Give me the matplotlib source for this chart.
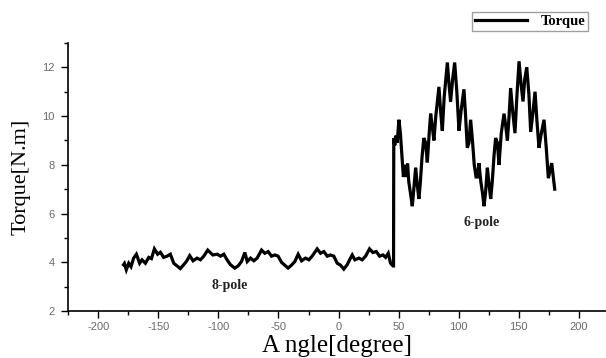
import matplotlib
matplotlib.use("Agg")
import matplotlib.pyplot as plt
from matplotlib.ticker import MultipleLocator

plt.rcParams["axes.unicode_minus"] = False

# ---- data ----
angle_8pole = [-179.0, -178.3, -176.7, -174.7, -172.8, -170.6, -168.3, -165.6, -163.6, -160.8,
               -158.0, -155.8, -153.3, -150.6, -148.3, -145.6, -142.8, -140.0, -137.2, -134.4,
               -131.7, -128.9, -126.7, -123.9, -121.1, -117.8, -115.0, -112.2, -108.9, -104.7,
               -101.0, -98.3, -95.5, -92.8, -90.0, -86.4, -83.6, -80.8, -78.0, -76.0,
               -73.3, -70.5, -67.8, -64.1, -61.4, -58.6, -55.8, -53.0, -50.3, -47.5,
               -44.7, -42.0, -39.2, -36.4, -33.6, -30.8, -27.5, -24.7, -22.0, -17.8,
               -15.0, -12.2, -9.4, -6.7, -3.9, -1.1, 1.7, 4.4, 7.2, 9.2,
               11.4, 13.6, 17.0, 19.7, 22.5, 25.8, 28.6, 31.4, 34.2, 37.0,
               39.2, 41.4, 43.3, 45.3, 45.8]
torque_8pole = [3.90, 3.95, 3.69, 3.96, 3.82, 4.17, 4.33, 3.96, 4.10, 3.96,
                4.20, 4.15, 4.55, 4.33, 4.41, 4.20, 4.25, 4.33, 3.96, 3.85,
                3.74, 3.90, 4.03, 4.27, 4.06, 4.17, 4.10, 4.25, 4.50, 4.30,
                4.33, 4.25, 4.33, 4.10, 3.90, 3.76, 3.85, 4.03, 4.40, 4.03,
                4.17, 4.06, 4.17, 4.50, 4.37, 4.44, 4.25, 4.30, 4.25, 4.00,
                3.88, 3.76, 3.88, 4.03, 4.33, 4.06, 4.17, 4.10, 4.25, 4.55,
                4.37, 4.44, 4.25, 4.30, 4.25, 3.96, 3.88, 3.72, 3.90, 4.10,
                4.30, 4.10, 4.17, 4.10, 4.25, 4.55, 4.40, 4.44, 4.25, 4.30,
                4.20, 4.37, 3.96, 3.85, 3.85]

angle_6pole = [46.0, 46.8, 47.8, 48.8, 50.3, 51.5, 53.0, 54.0, 55.0, 56.0,
               57.5, 58.5, 60.0, 61.4, 62.5, 64.2, 65.5, 66.9, 68.0, 69.5,
               71.0, 72.5, 73.9, 75.5, 76.7, 78.0, 79.4, 81.0, 83.6, 85.0,
               86.4, 88.0, 90.6, 92.0, 93.3, 95.0, 96.7, 98.5, 100.3, 102.0,
               104.4, 105.8, 107.2, 108.6, 110.0, 111.5, 113.0, 114.5, 115.6, 116.9,
               118.5, 120.0, 121.1, 122.5, 123.9, 125.3, 126.7, 128.0, 129.5, 130.8,
               132.3, 133.6, 135.5, 137.8, 139.2, 140.6, 142.0, 143.3, 145.0, 146.9,
               148.5, 150.3, 152.0, 153.6, 155.0, 156.7, 158.5, 160.0, 162.0, 163.6,
               165.2, 166.9, 168.5, 171.1, 172.8, 174.7, 177.5, 180.0]
torque_6pole = [9.10, 8.80, 9.20, 8.90, 9.85, 9.30, 8.20, 7.50, 8.00, 7.50,
                8.05, 7.30, 6.80, 6.30, 6.90, 7.88, 7.20, 6.60, 7.20, 8.30,
                9.10, 8.90, 8.10, 9.30, 10.10, 9.60, 9.00, 10.00, 11.20, 10.20,
                9.40, 10.80, 12.20, 11.30, 10.60, 11.50, 12.20, 11.00, 9.40, 10.20,
                11.10, 10.00, 8.70, 8.90, 9.85, 9.00, 8.00, 7.50, 7.50, 8.07,
                7.30, 6.80, 6.30, 6.90, 7.88, 7.20, 6.60, 7.30, 8.40, 9.10,
                8.90, 8.00, 9.30, 10.10, 9.60, 9.00, 10.00, 11.15, 10.20, 9.30,
                10.80, 12.25, 11.30, 10.60, 11.50, 12.00, 10.90, 9.35, 10.20, 11.00,
                9.80, 8.70, 9.20, 9.85, 8.80, 7.45, 8.07, 7.00]

angle = angle_8pole + angle_6pole
torque = torque_8pole + torque_6pole

x_ticks = [-200, -150, -100, -50, 0, 50, 100, 150, 200]
y_ticks = [2, 4, 6, 8, 10, 12]
region_labels = ["8-pole", "6-pole"]
region_label_pos = [(-91, 3.04), (119.5, 5.62)]

# ---- figure ----
fig = plt.figure(figsize=(6.06, 3.58), dpi=100)
ax = fig.add_axes([0.1127, 0.1313, 0.8873, 0.7486])

line, = ax.plot(angle, torque, color="black", linewidth=2.3, solid_joinstyle="miter",
                label="Torque")

ax.set_xlim(-225, 222.7)
ax.set_ylim(2, 13)
ax.set_xticks(x_ticks)
ax.set_yticks(y_ticks)
ax.xaxis.set_minor_locator(MultipleLocator(25))
ax.yaxis.set_minor_locator(MultipleLocator(1))

for side in ["top", "right"]:
    ax.spines[side].set_visible(False)
for side in ["left", "bottom"]:
    ax.spines[side].set_linewidth(1.2)
    ax.spines[side].set_color("black")

ax.tick_params(axis="both", which="major", direction="out", length=5, width=1.0,
               labelsize=8, colors="black")
ax.tick_params(axis="both", which="minor", direction="out", length=3, width=1.0)
ax.tick_params(axis="x", which="major", pad=3)
ax.tick_params(axis="y", which="major", pad=5)
for lab in ax.get_xticklabels() + ax.get_yticklabels():
    lab.set_color("#6a6a6a")
    lab.set_family(["Liberation Sans", "DejaVu Sans"])

serif = ["Liberation Serif", "DejaVu Serif"]
ax.set_ylabel("Torque[N.m]", fontsize=16, family=serif, labelpad=8)
ax.set_xlabel("A ngle[degree]", fontsize=18, family=serif, labelpad=2)

for txt, (xp, yp) in zip(region_labels, region_label_pos):
    ax.text(xp, yp, txt, fontsize=10, family=serif, fontweight="bold", color="#222222",
            ha="center", va="center")

leg = fig.legend(handles=[line], loc="upper right",
                 bbox_to_anchor=(588 / 606, 1 - 12 / 358),
                 prop={"family": serif, "size": 10.5, "weight": "bold"},
                 frameon=True, fancybox=False, handlelength=3.6, handletextpad=0.9,
                 borderpad=0.2, borderaxespad=0.0)
leg.get_frame().set_edgecolor("#888888")
leg.get_frame().set_linewidth(1.0)

fig.savefig("out.png", dpi=100)
